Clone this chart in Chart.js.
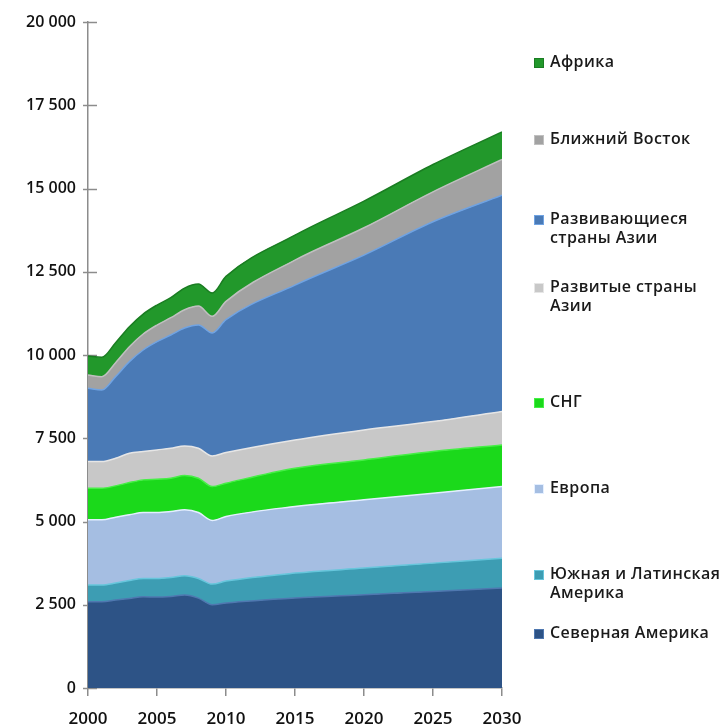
<!DOCTYPE html>
<html>
<head>
<meta charset="utf-8">
<script src="https://cdn.jsdelivr.net/npm/chart.js@4.4.1/dist/chart.umd.min.js"></script>
<style>
  body { margin: 0; background: #fff; }
  #wrap { position: relative; width: 724px; height: 727px; }
  #legend { position: absolute; left: 0; top: 0; width: 724px; height: 727px; }
  .item { position: absolute; left: 534px; white-space: nowrap; font: 600 16px "Open Sans", sans-serif; color: #1a1a1a; line-height: 19px; letter-spacing: 0.4px; }
  .item .box { position: absolute; left: 0; top: 6px; width: 8px; height: 8px; }
  .item .txt { margin-left: 16px; display: block; }
</style>
</head>
<body>
<div id="wrap">
  <canvas id="chart" width="724" height="727"></canvas>
  <div id="legend"></div>
</div>
<script>
// years on the x axis (annual to 2010, then 5-year steps)
const years = [2000, 2001, 2002, 2003, 2004, 2005, 2006, 2007, 2008, 2009, 2010, 2015, 2020, 2025, 2030];

// regional values, bottom layer first
const northAmerica   = [2590, 2590, 2640, 2690, 2740, 2730, 2750, 2790, 2700, 2500, 2550, 2700, 2800, 2900, 3000];
const latinAmerica   = [500, 500, 510, 540, 550, 560, 570, 580, 590, 620, 660, 750, 800, 850, 900];
const europe         = [1960, 1960, 1980, 1970, 1980, 1980, 1980, 1980, 1980, 1910, 1940, 2000, 2050, 2100, 2150];
const cis            = [950, 950, 940, 970, 980, 1000, 1000, 1030, 1030, 1020, 1000, 1150, 1200, 1250, 1250];
const developedAsia  = [800, 800, 830, 880, 850, 880, 900, 890, 900, 920, 920, 850, 900, 900, 1000];
const developingAsia = [2200, 2150, 2450, 2750, 3050, 3250, 3400, 3540, 3700, 3690, 3990, 4650, 5250, 6000, 6500];
const middleEast     = [400, 400, 420, 450, 480, 500, 520, 550, 570, 500, 550, 750, 820, 900, 1070];
const africa         = [570, 580, 600, 600, 600, 600, 600, 650, 660, 700, 750, 750, 800, 820, 830];

const seriesNames = [
  "Северная Америка",
  "Южная и Латинская Америка",
  "Европа",
  "СНГ",
  "Развитые страны Азии",
  "Развивающиеся страны Азии",
  "Ближний Восток",
  "Африка"
];
const seriesValues = [northAmerica, latinAmerica, europe, cis, developedAsia, developingAsia, middleEast, africa];

const fills   = ["#2d5386", "#3d9db3", "#a5bee2", "#1bd91b", "#c8c8c8", "#4a7ab6", "#a2a2a2", "#22982b"];
const borders = ["#4f78b0", "#67c6dc", "#e4efff", "#46ef46", "#e6e6e6", "#70a3e2", "#c0c0c0", "#1a7d22"];

// legend: top edge of each entry, in legend order (top to bottom)
const legendOrder = [7, 6, 5, 4, 3, 2, 1, 0];
const legendTops  = [52, 129, 209, 277, 392, 478, 564, 623];
const legendText  = {
  5: ["Развивающиеся", "страны Азии"],
  4: ["Развитые страны", "Азии"],
  1: ["Южная и Латинская", "Америка"]
};

const fmt = v => String(v).replace(/\B(?=(\d{3})+(?!\d))/g, " ");

const yTicksCross = {
  id: "yTicksCross",
  beforeDatasetsDraw(chart) {
    const { ctx, scales: { y } } = chart;
    ctx.save();
    ctx.strokeStyle = "#8c8c8c";
    ctx.lineWidth = 1.5;
    y.ticks.forEach(t => {
      const py = Math.round(y.getPixelForValue(t.value)) + 0.5;
      ctx.beginPath();
      ctx.moveTo(y.right - 5, py);
      ctx.lineTo(y.right + 9, py);
      ctx.stroke();
    });
    ctx.restore();
  }
};

const datasets = seriesValues.map((vals, i) => ({
  label: seriesNames[i],
  data: years.map((x, k) => ({ x: x, y: vals[k] })),
  backgroundColor: fills[i],
  borderColor: borders[i],
  borderWidth: 1.5,
  pointRadius: 0,
  cubicInterpolationMode: "monotone",
  fill: i === 0 ? "origin" : "-1"
}));

new Chart(document.getElementById("chart"), {
  type: "line",
  data: { datasets },
  options: {
    responsive: false,
    animation: false,
    layout: { padding: { top: 22, right: 222, left: 0, bottom: 0 } },
    plugins: { legend: { display: false }, tooltip: { enabled: false } },
    scales: {
      x: {
        type: "linear",
        min: 2000,
        max: 2030,
        afterFit: s => { s.height = 39; },
        ticks: {
          stepSize: 5,
          color: "#111",
          padding: 13,
          font: { family: "Open Sans", size: 17, weight: 600 },
          callback: v => String(v)
        },
        grid: { drawOnChartArea: false, tickLength: 8, color: "#8c8c8c", lineWidth: 1.5 },
        border: { color: "#8c8c8c", width: 1.5 }
      },
      y: {
        stacked: true,
        min: 0,
        max: 20000,
        afterFit: s => { s.width = 88; },
        ticks: {
          stepSize: 2500,
          color: "#111",
          padding: 12,
          font: { family: "Open Sans", size: 16, weight: 600 },
          callback: v => fmt(v)
        },
        grid: { display: true, drawOnChartArea: false, drawTicks: false },
        border: { color: "#8c8c8c", width: 1.5 }
      }
    }
  },
  plugins: [yTicksCross]
});

// html legend
const legend = document.getElementById("legend");
legendOrder.forEach((idx, n) => {
  const item = document.createElement("div");
  item.className = "item";
  item.style.top = legendTops[n] + "px";
  const box = document.createElement("span");
  box.className = "box";
  box.style.background = fills[idx];
  box.style.border = "1px solid " + borders[idx];
  item.appendChild(box);
  const lines = legendText[idx] || [seriesNames[idx]];
  lines.forEach(line => {
    const t = document.createElement("span");
    t.className = "txt";
    t.textContent = line;
    item.appendChild(t);
  });
  legend.appendChild(item);
});
</script>
</body>
</html>
